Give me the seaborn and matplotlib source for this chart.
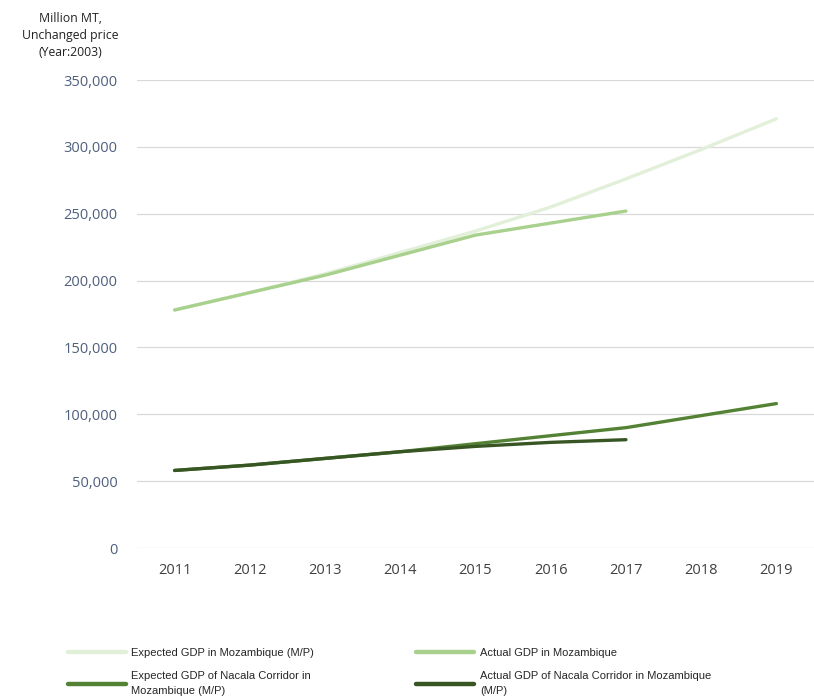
import matplotlib
matplotlib.use("Agg")
import matplotlib.pyplot as plt
import seaborn as sns
import pandas as pd
from matplotlib.ticker import FuncFormatter
from matplotlib.lines import Line2D

years = [2011, 2012, 2013, 2014, 2015, 2016, 2017, 2018, 2019]
expected_moz = [178000, 191000, 205000, 221000, 237000, 255000, 276000, 298000, 321000]
actual_moz = [178000, 191000, 204000, 219000, 234000, 243000, 252000]
expected_nacala = [58000, 62000, 67000, 72000, 78000, 84000, 90000, 99000, 108000]
actual_nacala = [58000, 62000, 67000, 72000, 76000, 79000, 81000]

series_names = [
    "Expected GDP in Mozambique (M/P)",
    "Expected GDP of Nacala Corridor in\nMozambique (M/P)",
    "Actual GDP in Mozambique",
    "Actual GDP of Nacala Corridor in Mozambique\n(M/P)",
]
series_values = [expected_moz, expected_nacala, actual_moz, actual_nacala]
colors = ["#e2efd9", "#548235", "#a9d18e", "#375623"]

rows = []
for name, vals in zip(series_names, series_values):
    for y, v in zip(years, vals):
        rows.append({"Year": y, "GDP": v, "Series": name})
df = pd.DataFrame(rows)

sns.set_theme(style="white")
plt.rcParams["font.family"] = ["Open Sans", "DejaVu Sans"]

fig = plt.figure(figsize=(8.14, 6.99), dpi=100)
ax = fig.add_axes([137 / 814, 1 - 548 / 699, 677 / 814, 468 / 699])

draw_order = [series_names[0], series_names[2], series_names[1], series_names[3]]
palette = dict(zip(series_names, colors))
for name in draw_order:
    sns.lineplot(data=df[df["Series"] == name], x="Year", y="GDP",
                 color=palette[name], linewidth=2.4, ax=ax, legend=False,
                 solid_capstyle="round")

ax.set_xlim(2010.5, 2019.5)
ax.set_ylim(0, 350000)
ax.set_yticks(range(0, 350001, 50000))
ax.set_xticks(years)
ax.yaxis.set_major_formatter(FuncFormatter(lambda v, p: f"{int(v):,}"))
ax.grid(axis="y", color="#d9d9d9", linewidth=0.9)
ax.grid(axis="x", visible=False)
for s in ax.spines.values():
    s.set_visible(False)
ax.tick_params(axis="both", length=0)
ax.tick_params(axis="y", pad=14, labelsize=10.5, labelcolor="#4f5f7d")
ax.tick_params(axis="x", pad=11, labelsize=10.5, labelcolor="#404040")
ax.set_xlabel("")
ax.set_ylabel("")

fig.text(70 / 814, 1 - 35 / 699, "Million MT,\nUnchanged price\n(Year:2003)",
         ha="center", va="center", fontsize=8.8, color="#222222",
         linespacing=1.4)

handles = [Line2D([0], [0], color=c, linewidth=3.2) for c in colors]
leg = fig.legend(handles, series_names, loc="upper left",
                 bbox_to_anchor=(68 / 814, 1 - 648 / 699), ncol=2, frameon=False,
                 handlelength=5.2, handletextpad=0.5,
                 columnspacing=9.2, labelspacing=1.2, borderpad=0,
                 borderaxespad=0,
                 prop={"family": ["Liberation Sans", "DejaVu Sans"], "size": 8})
for t in leg.get_texts():
    t.set_linespacing(1.6)

fig.savefig("out.png", dpi=100)
